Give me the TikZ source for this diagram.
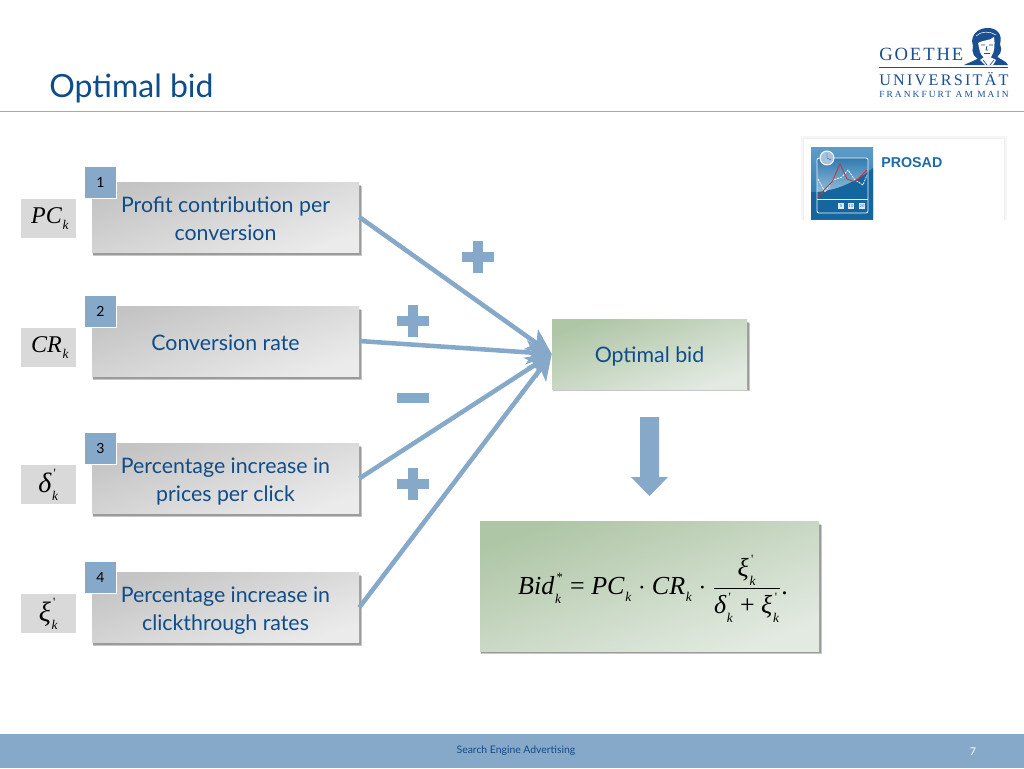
\documentclass[tikz,border=0pt]{standalone}
\usepackage{fontspec}
\usepackage{graphicx}
\usetikzlibrary{arrows.meta,shadings,calc}
\setmainfont{Lato}
\newfontfamily\tnr{Liberation Serif}
\newfontfamily\arialf{Liberation Sans}
\definecolor{uniblue}{HTML}{0F4C8A}
\definecolor{midblue}{HTML}{86A9C9}
\definecolor{rulecol}{HTML}{8FB0CB}
\definecolor{logoblue}{HTML}{1A4F91}
\definecolor{grayA}{HTML}{C4C4C4}
\definecolor{grayB}{HTML}{EBEBEB}
\definecolor{greenA}{HTML}{AFC6A6}
\definecolor{greenB}{HTML}{E3EAE2}
\definecolor{iconA}{HTML}{5F9DC8}
\definecolor{iconB}{HTML}{1C6CA8}
\definecolor{iconC}{HTML}{15659F}
\newcommand\mi[1]{\hbox{\tnr\itshape #1}}
\newcommand\mr[1]{\hbox{\tnr #1}}
\newcommand\msm[1]{\raisebox{-1.5pt}{\hbox{\tnr\itshape\fontsize{10}{11}\selectfont\kern0.6pt #1}}}
\newcommand\mfrm[1]{\raisebox{1.5pt}{\hbox{\tnr\fontsize{9.5}{10}\selectfont\kern1.8pt #1}}}
\tikzset{
  x=0.75pt,y=-0.75pt,
  graybox/.style={minimum width=200.25pt,minimum height=52.5pt,inner sep=0pt,
    shading=axis,top color=grayA,bottom color=grayB,shading angle=20},
  boxtext/.style={inner sep=0pt,align=center,text=uniblue,font=\fontsize{16}{21}\selectfont},
  softshadow/.style={fill=black,opacity=0.22},
  badge/.style={fill=midblue,draw=white,line width=0.6pt,minimum width=23.5pt,minimum height=23.5pt,inner sep=0pt,
    font=\fontsize{10.5}{12}\selectfont,text=black},
  symbox/.style={fill=black!15,minimum width=41.5pt,minimum height=29.5pt,inner sep=0pt,font=\tnr\fontsize{18}{20}\selectfont},
  greenbox/.style={inner sep=0pt,shading=axis,top color=greenA,bottom color=greenB,shading angle=20},
  connector/.style={draw=midblue,line width=3.4pt,-{Stealth[length=19pt,width=18pt,inset=5pt]},shorten >=0pt},
  signmark/.style={fill=midblue},
  tinybtn/.style={fill=white!75!midblue,inner sep=0pt,minimum width=5pt,minimum height=5pt,text=iconB,font=\fontsize{3}{3}\selectfont},
}
\begin{document}
\begin{tikzpicture}
\useasboundingbox (0,0) rectangle (1024,768);
\fill[white] (0,0) rectangle (1024,768);
% header
\node[anchor=base west,inner sep=0pt,text=uniblue,font=\fontsize{24}{28}\selectfont] (title) at (49,97) {Optimal bid};
\draw[rulecol,line width=1.1pt] (0,111.5) -- (1024,111.5);
% logo
\node[anchor=base west,inner sep=0pt,text=logoblue] (logoa) at (879,60.5) {\resizebox{63pt}{!}{\tnr\addfontfeatures{LetterSpace=10}GOETHE}};
\draw[logoblue,line width=0.7pt] (879,67) -- (1008,67);
\node[anchor=base west,inner sep=0pt,text=logoblue] (logob) at (879,85) {\resizebox{97pt}{!}{\tnr\addfontfeatures{LetterSpace=14}UNIVERSITÄT}};
\node[anchor=base west,inner sep=0pt,text=logoblue] (logoc) at (879,97.5) {\resizebox{97pt}{!}{\tnr\addfontfeatures{LetterSpace=22}FRANKFURT AM MAIN}};
% Goethe head
\fill[logoblue] (964,65) .. controls (972,61) and (978,60) .. (982,55) -- (996,55) .. controls (999,60) and (1006,60) .. (1008,65) -- cycle;
\fill[logoblue] (983,60) .. controls (974,60) and (971,52) .. (973,46) .. controls (970,38) and (975,29) .. (986,28) .. controls (997,27) and (1003,35) .. (1000,44) .. controls (1003,50) and (1000,58) .. (993,58) -- cycle;
\fill[white] (978,43) .. controls (982,40) and (990,41) .. (994,37) .. controls (995,44) and (995,52) .. (991,57) .. controls (987,60) and (982,58) .. (980,52) -- cycle;
\fill[white] (980,60) -- (985,65) -- (993,65) -- (996,60) -- (990,57) -- (984,57) -- cycle;
\draw[logoblue,line width=0.6pt] (981,45) -- (985,45) (989,45) -- (993,45) (987,46) -- (986,50) -- (988,50) (984,53.5) -- (990,53.5);
\draw[logoblue,line width=0.5pt] (983,60) -- (987,65) (994,60) -- (990,65);
\draw[white,line width=0.4pt] (976,36) .. controls (981,31) and (990,31) .. (996,35);
% PROSAD card
\foreach \o/\g in {3/3,2/4,1/6}{\fill[black!\g] (804-\o,139-\o) rectangle (1004+\o,220);}
\fill[white] (804,139) rectangle (1004,224);
\node[anchor=base west,inner sep=0pt,font=\arialf\bfseries\fontsize{10.7}{12}\selectfont,text=iconB] (prosad) at (881,167) {PROSAD};
% icon
\shade[top color=iconA,bottom color=iconB] (811,147) rectangle (873,219);
\shade[top color=iconB!70!iconA,bottom color=white!45!iconA] (817,158) rectangle (868,199);
\fill[iconC] (817,192) .. controls (840,190) and (858,180) .. (873,168) -- (873,219) -- (811,219) -- (811,192) -- cycle;
\draw[white!90!midblue,line width=0.6pt,rounded corners=1.5pt] (817,158) rectangle (868,213);
\draw[white!90!midblue,line width=0.6pt] (817,199) -- (868,199);
\fill[midblue!70] (827,158) circle (7);
\draw[white,line width=0.7pt] (827,158) circle (7);
\draw[uniblue,line width=0.3pt] (827,153) -- (827,158) -- (831,160);
\draw[white,dashed,dash pattern=on 1.5pt off 0.8pt,line width=0.6pt] (818,179) -- (825,192) -- (833,180) -- (842,177) -- (848,170) -- (855,180) -- (863,185) -- (867,175);
\draw[red!70!iconA,line width=0.6pt] (818,197) -- (825,189) -- (832,182) -- (840,164) -- (847,179) -- (855,182) -- (867,170);
\node[tinybtn] (bt1) at (841,206) {5};
\node[tinybtn] (bt2) at (851,206) {10};
\node[tinybtn] (bt3) at (862,206) {20};
% main boxes
\foreach \yy in {182,306,443,572}{
  \fill[softshadow] (93,\yy+4) rectangle (362,\yy+74);
  \fill[softshadow] (93,\yy+3) rectangle (361,\yy+72.5);
}
\node[graybox] (b1) at (225.5,217) {};
\node[graybox] (b2) at (225.5,341) {};
\node[graybox] (b3) at (225.5,478.5) {};
\node[graybox] (b4) at (225.5,607.5) {};
\node[boxtext] (b1t) at (225.5,219) {Profit contribution per\\conversion};
\node[boxtext] (b2t) at (225.5,343) {Conversion rate};
\node[boxtext] (b3t) at (225.5,481.5) {Percentage increase in\\prices per click};
\node[boxtext] (b4t) at (225.5,610.5) {Percentage increase in\\clickthrough rates};
\node[badge] (n1) at (100.5,182.5) {1};
\node[badge] (n2) at (100.5,311.5) {2};
\node[badge] (n3) at (100.5,448.5) {3};
\node[badge] (n4) at (100.5,577.5) {4};
% symbols
\node[symbox] (s1) at (48.5,218.5) {\hspace*{2.5pt}\raisebox{-1.5pt}{$\mi{PC}_{\msm{k}}$}};
\node[symbox] (s2) at (48.5,347.5) {\hspace*{2.5pt}\raisebox{-1.5pt}{$\mi{CR}_{\msm{k}}$}};
\node[symbox] (s3) at (48.5,484.5) {\raisebox{-1.5pt}{$\mi{\fontsize{21}{22}\selectfont δ}^{\mfrm{'}}_{\msm{k}}$}};
\node[symbox] (s4) at (48.5,613.5) {\raisebox{-1.5pt}{$\mi{\fontsize{21}{22}\selectfont ξ}^{\mfrm{'}}_{\msm{k}}$}};
% optimal bid
\fill[softshadow] (553,323) rectangle (750,391);
\fill[softshadow] (553,322) rectangle (749,390);
\node[greenbox,minimum width=146.25pt,minimum height=52.5pt] (opt) at (649.5,354) {};
\node[boxtext] (optt) at (649.5,356.5) {Optimal bid};
% formula
\fill[softshadow] (481,525) rectangle (822,654);
\fill[softshadow] (481,524) rectangle (821,653);
\node[greenbox,minimum width=254.25pt,minimum height=97.5pt] (form) at (649.5,586) {};
\node[inner sep=0pt,font=\tnr\fontsize{19.5}{22}\selectfont] (formt) at (653,589) {$\displaystyle \mi{Bid}^{\mfrm{*}}_{\msm{k}}\mr{ = }\mi{PC}_{\msm{k}}\cdot\mi{CR}_{\msm{k}}\cdot\frac{\mi{ξ}^{\mfrm{'}}_{\msm{k}}}{\mi{δ}^{\mfrm{'}}_{\msm{k}}\mr{ + }\mi{ξ}^{\mfrm{'}}_{\msm{k}}}\mr{.}$};
% connectors
\draw[connector] (b1.east) -- (opt.west);
\draw[connector] (b2.east) -- (opt.west);
\draw[connector] (b3.east) -- (opt.west);
\draw[connector] (b4.east) -- (opt.west);
% signs
\foreach \cx/\cy in {477.5/257,413/321,413/484}{
  \fill[signmark] (\cx-16,\cy-5) rectangle (\cx+16,\cy+5);
  \fill[signmark] (\cx-5,\cy-16) rectangle (\cx+5,\cy+16);
}
\fill[signmark] (397,392.5) rectangle (429,402.5);
% down arrow
\fill[midblue] (640,417) -- (659,417) -- (659,477) -- (668,477) -- (649.5,496) -- (631,477) -- (640,477) -- cycle;
% footer
\fill[midblue] (0,734) rectangle (1024,768);
\node[inner sep=0pt,text=uniblue,font=\fontsize{7.8}{10}\selectfont] (foot) at (516,751) {Search Engine Advertising};
\node[inner sep=0pt,text=white,font=\fontsize{8}{10}\selectfont] (page) at (973,752) {7};
\end{tikzpicture}
\end{document}
